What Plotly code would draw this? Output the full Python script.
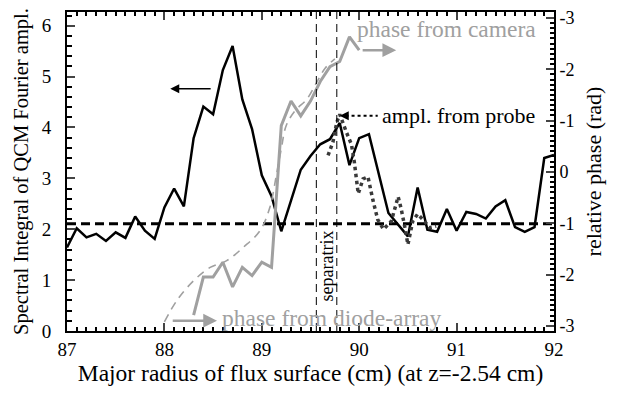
import plotly.graph_objects as go

# ---- data ----
r_qcm = [87.0, 87.1, 87.2, 87.3, 87.4, 87.5, 87.6, 87.7, 87.8, 87.9,
         88.0, 88.1, 88.2, 88.3, 88.4, 88.5, 88.6, 88.7, 88.8, 88.9,
         89.0, 89.1, 89.2, 89.3, 89.4, 89.5, 89.6, 89.7, 89.8, 89.9,
         90.0, 90.1, 90.3, 90.5, 90.6, 90.7, 90.8, 90.9, 91.0, 91.1,
         91.2, 91.3, 91.4, 91.5, 91.6, 91.7, 91.8, 91.9, 92.0]
qcm_ampl = [1.64, 2.02, 1.84, 1.91, 1.77, 1.94, 1.83, 2.25, 1.97, 1.81,
            2.43, 2.80, 2.45, 3.79, 4.41, 4.26, 5.13, 5.60, 4.55, 3.97,
            3.06, 2.65, 1.96, 2.58, 3.17, 3.44, 3.67, 3.77, 4.09, 3.26,
            3.79, 3.87, 2.32, 1.86, 2.82, 1.99, 1.95, 2.40, 1.97, 2.34,
            2.30, 2.21, 2.45, 2.57, 2.04, 1.95, 2.04, 3.40, 3.46]

threshold_r = [87.0, 92.0]
threshold_v = [2.11, 2.11]

r_probe = [89.68, 89.73, 89.77, 89.80, 89.87, 89.92, 89.95, 89.99, 90.04, 90.09,
           90.14, 90.19, 90.25, 90.33, 90.40, 90.43, 90.47, 90.50, 90.55, 90.60,
           90.67, 90.72, 90.79]
probe_ampl = [3.45, 3.71, 4.10, 4.26, 3.90, 3.67, 3.32, 2.70, 2.99, 3.03,
              2.58, 2.19, 2.00, 2.16, 2.64, 2.41, 2.03, 1.70, 2.16, 2.30,
              2.16, 2.03, 2.06]

r_camera = [88.3, 88.4, 88.5, 88.6, 88.7, 88.8, 88.9, 89.0, 89.1, 89.2,
            89.3, 89.4, 89.5, 89.6, 89.7, 89.8, 89.9, 90.0]
camera_phase = [-2.79, -2.05, -2.05, -1.76, -2.24, -1.86, -2.02, -1.76, -1.86, 0.90,
                1.38, 1.09, 1.38, 1.76, 2.05, 2.15, 2.63, 2.37]

r_diode = [88.0, 88.13, 88.3, 88.47, 88.64, 88.81, 88.98, 89.08, 89.15, 89.2,
           89.25, 89.34, 89.46, 89.56, 89.65, 89.75]
diode_phase = [-2.92, -2.50, -2.12, -1.86, -1.73, -1.47, -1.15, -0.71, -0.06, 0.45,
               0.90, 1.19, 1.41, 1.73, 2.02, 2.20]

separatrix_r = [89.56, 89.77]

left_ticks = [0, 1, 2, 3, 4, 5, 6]
right_tickvals = [-3, -2, -1, 0, 1, 2, 3]
right_ticktext = ["-3", "-2", "-1", "0", "-1", "-2", "-3"]
x_ticks = [87, 88, 89, 90, 91, 92]

GRAY = "#a0a0a0"
FONT = "Liberation Serif"

fig = go.Figure()

fig.add_trace(go.Scatter(x=r_diode, y=diode_phase, yaxis="y2", mode="lines",
                         line=dict(color=GRAY, width=1.6, dash="8px,6px", shape="spline"),
                         showlegend=False))
fig.add_trace(go.Scatter(x=r_camera, y=camera_phase, yaxis="y2", mode="lines",
                         line=dict(color=GRAY, width=3), showlegend=False))
fig.add_trace(go.Scatter(x=threshold_r, y=threshold_v, mode="lines",
                         line=dict(color="black", width=3, dash="9px,5px"), showlegend=False))
fig.add_trace(go.Scatter(x=r_qcm, y=qcm_ampl, mode="lines",
                         line=dict(color="black", width=2.5), showlegend=False))
fig.add_trace(go.Scatter(x=r_probe, y=probe_ampl, mode="lines",
                         line=dict(color="#3a3a3a", width=3.5, dash="dot"), showlegend=False))

shapes = []
for xs in separatrix_r:
    shapes.append(dict(type="line", xref="x", yref="paper", x0=xs, x1=xs, y0=0, y1=1,
                       line=dict(color="black", width=1, dash="8px,5px")))
# dotted arrow shaft for the probe label
shapes.append(dict(type="line", xref="x", yref="y", x0=89.86, x1=90.19, y0=4.23, y1=4.23,
                   line=dict(color="black", width=2, dash="dot")))

annotations = [
    dict(x=88.06, y=4.76, ax=88.49, ay=4.76, xref="x", yref="y", axref="x", ayref="y",
         text="", showarrow=True, arrowhead=2, arrowsize=1.2, arrowwidth=1.5, arrowcolor="black"),
    dict(x=89.80, y=4.23, ax=89.90, ay=4.23, xref="x", yref="y", axref="x", ayref="y",
         text="", showarrow=True, arrowhead=2, arrowsize=1.2, arrowwidth=1.5, arrowcolor="black"),
    dict(x=90.21, y=4.23, xref="x", yref="y", text="ampl. from probe", showarrow=False,
         xanchor="left", yanchor="middle", font=dict(family=FONT, size=22, color="black")),
    dict(x=90.38, y=2.37, ax=90.02, ay=2.37, xref="x", yref="y2", axref="x", ayref="y2",
         text="", showarrow=True, arrowhead=2, arrowsize=1.1, arrowwidth=2.5, arrowcolor=GRAY),
    dict(x=89.96, y=2.79, xref="x", yref="y2", text="phase from camera", showarrow=False,
         xanchor="left", yanchor="middle", font=dict(family=FONT, size=23.5, color=GRAY)),
    dict(x=88.54, y=-2.90, ax=88.07, ay=-2.90, xref="x", yref="y2", axref="x", ayref="y2",
         text="", showarrow=True, arrowhead=2, arrowsize=1.1, arrowwidth=2.5, arrowcolor=GRAY),
    dict(x=88.57, y=-2.84, xref="x", yref="y2", text="phase from diode-array", showarrow=False,
         xanchor="left", yanchor="middle", font=dict(family=FONT, size=23.5, color=GRAY)),
    dict(x=89.665, y=1.28, xref="x", yref="y", text="separatrix", showarrow=False,
         textangle=-90, xanchor="center", yanchor="middle",
         font=dict(family=FONT, size=18, color="black")),
]

fig.update_layout(
    width=619, height=393,
    margin=dict(l=67, r=65, t=8, b=62),
    paper_bgcolor="white", plot_bgcolor="white",
    font=dict(family=FONT, size=19, color="black"),
    shapes=shapes, annotations=annotations,
    xaxis=dict(range=[87, 92], tickvals=x_ticks, ticks="inside", ticklen=8, tickwidth=1.5,
               showline=True, linecolor="black", linewidth=2, mirror="ticks",
               showgrid=False, zeroline=False, ticklabelstandoff=0,
               minor=dict(dtick=0.1, ticks="inside", ticklen=4, tickcolor="black", showgrid=False),
               title=dict(text="Major radius of flux surface (cm) (at z=-2.54 cm)",
                          font=dict(size=23.5), standoff=4),
               tickfont=dict(size=19)),
    yaxis=dict(range=[0, 6.27], tickvals=left_ticks, ticks="inside", ticklen=8, tickwidth=1.5,
               showline=True, linecolor="black", linewidth=2,
               showgrid=False, zeroline=False, ticklabelstandoff=10,
               minor=dict(dtick=0.2, ticks="inside", ticklen=5, tickcolor="black", showgrid=False),
               title=dict(text="Spectral Integral of QCM Fourier ampl.", font=dict(size=20.5), standoff=8),
               tickfont=dict(size=19)),
    yaxis2=dict(range=[-3.1, 3.115], overlaying="y", side="right",
                tickvals=right_tickvals, ticktext=right_ticktext,
                ticks="inside", ticklen=8, tickwidth=1.5,
                showline=True, linecolor="black", linewidth=2,
                showgrid=False, zeroline=False, ticklabelstandoff=0,
                minor=dict(dtick=0.1, ticks="inside", ticklen=4, tickcolor="black", showgrid=False),
                title=dict(text="relative phase (rad)", font=dict(size=22), standoff=12),
                tickfont=dict(size=18)),
)

fig.write_html("out.html")
